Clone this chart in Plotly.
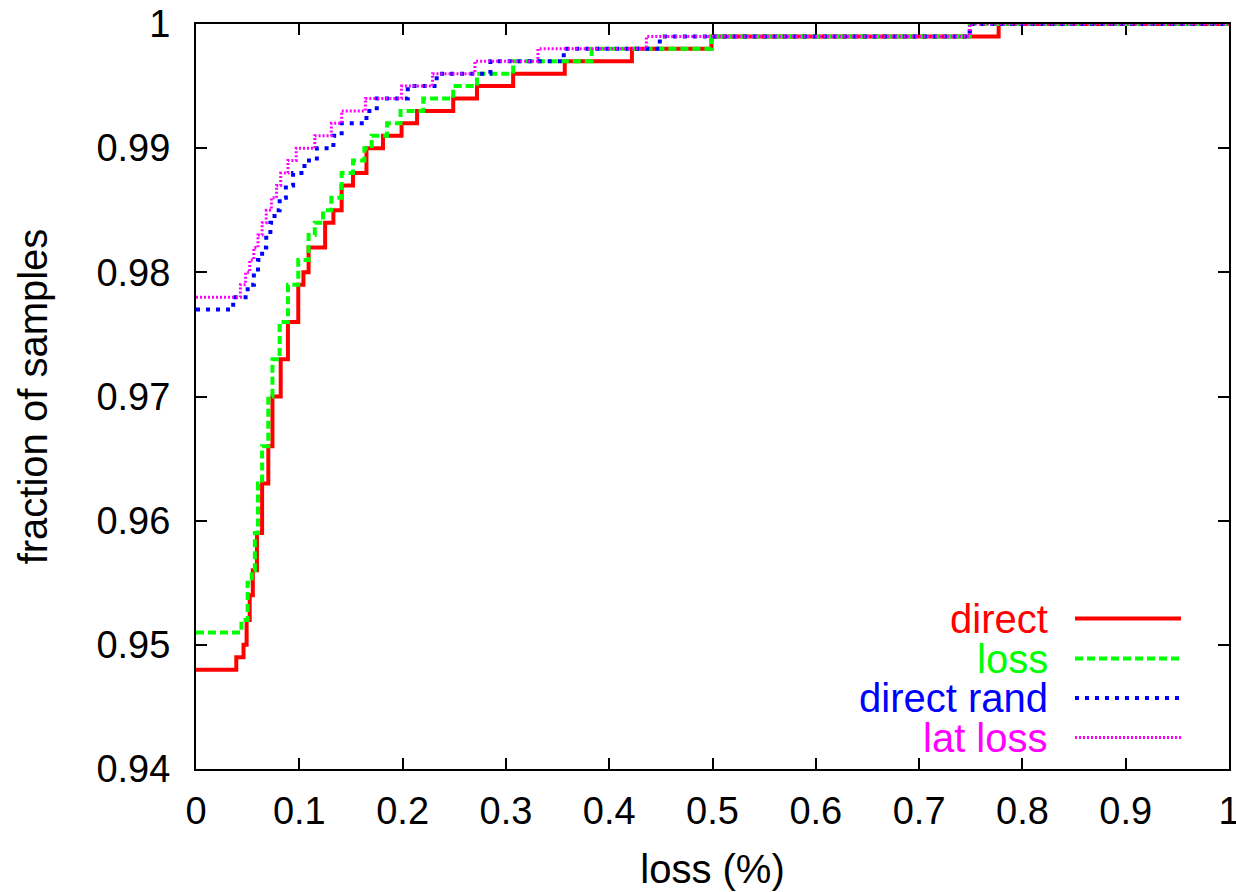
import plotly.graph_objects as go

# ---- data (step CDFs) ----
direct_x = [0, 0.039, 0.046, 0.049, 0.052, 0.055, 0.059, 0.064, 0.070, 0.074, 0.082, 0.089, 0.099, 0.104,
            0.109, 0.125, 0.133, 0.141, 0.152, 0.165, 0.181, 0.199, 0.214, 0.249, 0.272, 0.307, 0.357,
            0.422, 0.499, 0.777, 1.0]
direct_y = [0.948, 0.949, 0.950, 0.952, 0.954, 0.956, 0.959, 0.963, 0.966, 0.970, 0.973, 0.976, 0.979, 0.980,
            0.982, 0.984, 0.985, 0.987, 0.988, 0.990, 0.991, 0.992, 0.993, 0.994, 0.995, 0.996, 0.997,
            0.998, 0.999, 1.0, 1.0]

loss_x = [0, 0.044, 0.050, 0.054, 0.057, 0.060, 0.064, 0.070, 0.074, 0.081, 0.089, 0.099, 0.109, 0.115,
          0.123, 0.131, 0.141, 0.152, 0.163, 0.170, 0.185, 0.198, 0.220, 0.249, 0.272, 0.307, 0.383,
          0.499, 0.749, 1.0]
loss_y = [0.951, 0.952, 0.955, 0.956, 0.959, 0.963, 0.966, 0.970, 0.973, 0.976, 0.979, 0.981, 0.983, 0.984,
          0.985, 0.986, 0.988, 0.989, 0.990, 0.991, 0.992, 0.993, 0.994, 0.995, 0.996, 0.997, 0.998,
          0.999, 1.0, 1.0]

rand_x = [0, 0.036, 0.050, 0.056, 0.060, 0.064, 0.068, 0.072, 0.076, 0.081, 0.087, 0.094, 0.105, 0.117,
          0.133, 0.141, 0.165, 0.175, 0.205, 0.233, 0.285, 0.356, 0.449, 0.749, 1.0]
rand_y = [0.977, 0.978, 0.979, 0.980, 0.981, 0.982, 0.983, 0.984, 0.985, 0.986, 0.987, 0.988, 0.989, 0.990,
          0.991, 0.992, 0.993, 0.994, 0.995, 0.996, 0.997, 0.998, 0.999, 1.0, 1.0]

lat_x = [0, 0.043, 0.048, 0.052, 0.056, 0.060, 0.064, 0.068, 0.073, 0.078, 0.082, 0.089, 0.097, 0.115,
         0.131, 0.141, 0.164, 0.199, 0.229, 0.270, 0.331, 0.436, 0.749, 1.0]
lat_y = [0.978, 0.979, 0.980, 0.981, 0.982, 0.983, 0.984, 0.985, 0.986, 0.987, 0.988, 0.989, 0.990, 0.991,
         0.992, 0.993, 0.994, 0.995, 0.996, 0.997, 0.998, 0.999, 1.0, 1.0]

series_names = ["direct", "loss", "direct rand", "lat loss"]
x_ticks = [0, 0.1, 0.2, 0.3, 0.4, 0.5, 0.6, 0.7, 0.8, 0.9, 1.0]
x_tick_text = ["0", "0.1", "0.2", "0.3", "0.4", "0.5", "0.6", "0.7", "0.8", "0.9", "1"]
y_ticks = [0.94, 0.95, 0.96, 0.97, 0.98, 0.99, 1.0]
y_tick_text = ["0.94", "0.95", "0.96", "0.97", "0.98", "0.99", "1"]

# ---- styles ----
colors = ["#ff0000", "#00ff00", "#0000ff", "#ff00ff"]
widths = [4, 4, 4, 3]
dashes = ["solid", "8px,4px", "4px,6px", "2px,2px"]
FONT = "Liberation Sans, Arial, sans-serif"
FS_TICK = 38
FS_TEXT = 40

data = [(direct_x, direct_y), (loss_x, loss_y), (rand_x, rand_y), (lat_x, lat_y)]

fig = go.Figure()
for (xs, ys), name, c, w, d in zip(data, series_names, colors, widths, dashes):
    fig.add_trace(go.Scatter(x=xs, y=ys, mode="lines", name=name, line_shape="hv",
                             line=dict(color=c, width=w, dash=d), showlegend=False))

W, H = 1236, 892
L, R, T, B = 196, 7, 24, 123
pw, ph = W - L - R, H - T - B

# manual legend (text to the left of the sample line, gnuplot style)
text_right_px = 1049
line_x0_px, line_x1_px = 1075, 1181
row_px = [618.5, 658.5, 698, 737.5]
shapes = []
annotations = []
for name, c, w, d, ry in zip(series_names, colors, widths, dashes, row_px):
    yp = (H - B - ry) / ph
    annotations.append(dict(x=(text_right_px - L) / pw, y=yp, xref="paper", yref="paper",
                            text=name, showarrow=False, xanchor="right", yanchor="middle",
                            borderpad=0,
                            font=dict(family=FONT, size=FS_TEXT, color=c)))
    shapes.append(dict(type="line", xref="paper", yref="paper",
                       x0=(line_x0_px - L) / pw, x1=(line_x1_px - L) / pw, y0=yp, y1=yp,
                       line=dict(color=c, width=w, dash=d)))

axis_common = dict(showgrid=False, zeroline=False, showline=True, linecolor="black", linewidth=2,
                   mirror="ticks", ticks="inside", ticklen=11, tickwidth=2, tickcolor="black",
                   layer="below traces", ticklabeloverflow="allow", automargin=False,
                   tickfont=dict(family=FONT, size=FS_TICK, color="black"))

fig.update_layout(
    width=W, height=H,
    margin=dict(l=L, r=R, t=T, b=B, pad=0, autoexpand=False),
    paper_bgcolor="white", plot_bgcolor="white",
    shapes=shapes, annotations=annotations,
    xaxis=dict(range=[0, 1], tickvals=x_ticks, ticktext=x_tick_text,
               title=dict(text="loss (%)", font=dict(family=FONT, size=FS_TEXT, color="black"), standoff=24),
               ticklabelstandoff=7, **axis_common),
    yaxis=dict(range=[0.94, 1.0], tickvals=y_ticks, ticktext=y_tick_text,
               title=dict(text="fraction of samples", font=dict(family=FONT, size=FS_TEXT, color="black"), standoff=36),
               ticklabelstandoff=16, **axis_common),
)

# remove the browser's default body margin so the figure fills the window exactly
fig.write_html("out.html", config={"displayModeBar": False},
               post_script="document.body.style.margin='0';document.body.style.overflow='hidden';")
